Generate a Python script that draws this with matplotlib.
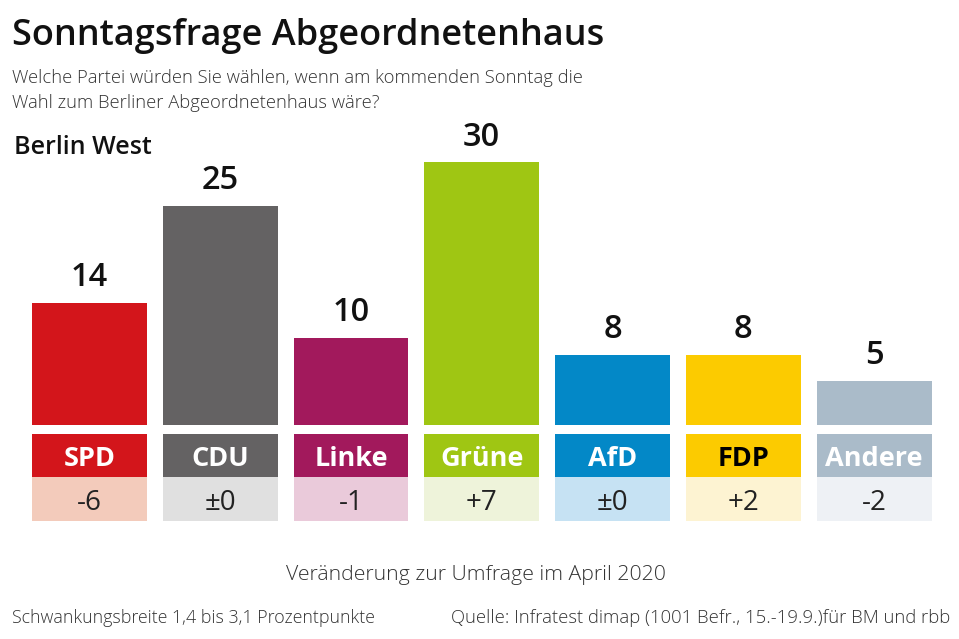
import matplotlib
matplotlib.use("Agg")
import matplotlib.pyplot as plt

parties = ["SPD", "CDU", "Linke", "Grüne", "AfD", "FDP", "Andere"]
values = [14, 25, 10, 30, 8, 8, 5]
changes = ["-6", "±0", "-1", "+7", "±0", "+2", "-2"]
colors = ["#d3151b", "#646263", "#a2195c", "#9fc613", "#0388c7", "#fccb00", "#aabbc9"]
light_colors = ["#f3cbbb", "#e0e0e0", "#eacada", "#eef3da", "#c6e2f3", "#fdf3d2", "#eef1f5"]
label_colors = ["white", "white", "white", "white", "white", "black", "white"]

FONT = "Open Sans"
plt.rcParams["font.family"] = [FONT, "DejaVu Sans"]

W, H = 959, 639
fig = plt.figure(figsize=(W / 100, H / 100), dpi=100)
fig.patch.set_facecolor("white")

# axes geometry in pixels
px_per_unit = 8.75
base_y = 425
x_left = 89.5 - 130.8 * 0.5
x_right = 874 + 130.8 * 0.5
ymin, ymax = -12, 32
ax_top = base_y - ymax * px_per_unit
ax_bot = base_y - ymin * px_per_unit
ax = fig.add_axes([x_left / W, 1 - ax_bot / H, (x_right - x_left) / W, (ax_bot - ax_top) / H])
ax.set_xlim(-0.5, 6.5)
ax.set_ylim(ymin, ymax)
ax.axis("off")

xs = list(range(len(parties)))
bw = 115 / 130.8
ax.bar(xs, values, width=bw, color=colors)

dark_top = -(434 - base_y) / px_per_unit
dark_bot = -(477 - base_y) / px_per_unit
light_bot = -(521 - base_y) / px_per_unit
ax.bar(xs, [dark_top - dark_bot] * 7, bottom=dark_bot, width=bw, color=colors)
ax.bar(xs, [dark_bot - light_bot] * 7, bottom=light_bot, width=bw, color=light_colors)

for x, v, p, c, lc in zip(xs, values, parties, changes, label_colors):
    ax.text(x, v + 1.0, str(v), ha="center", va="bottom", fontsize=23.5,
            fontweight="semibold", color="#111111")
    ax.text(x, (dark_top + dark_bot) / 2, p, ha="center", va="center_baseline",
            fontsize=19.5, fontweight="bold", color=lc)
    ax.text(x, (dark_bot + light_bot) / 2, c, ha="center", va="center_baseline",
            fontsize=20, fontweight="normal", color="#222222")

def fy(py):
    return 1 - py / H

fig.text(12 / W, fy(36), "Sonntagsfrage Abgeordnetenhaus", fontsize=26,
         fontweight="semibold", color="#111111", va="center", ha="left")
fig.text(12 / W, fy(78), "Welche Partei würden Sie wählen, wenn am kommenden Sonntag die",
         fontsize=13.2, color="#333333", va="center", ha="left", fontweight="light")
fig.text(12 / W, fy(103), "Wahl zum Berliner Abgeordnetenhaus wäre?",
         fontsize=13.2, color="#333333", va="center", ha="left", fontweight="light")
fig.text(14 / W, fy(147), "Berlin West", fontsize=18, fontweight="semibold",
         color="#111111", va="center", ha="left")
fig.text(476 / W, fy(575), "Veränderung zur Umfrage im April 2020", fontsize=15.3,
         color="#333333", va="center", ha="center", fontweight="light")
fig.text(12 / W, fy(618), "Schwankungsbreite 1,4 bis 3,1 Prozentpunkte", fontsize=12.8,
         color="#333333", va="center", ha="left", fontweight="light")
fig.text(950 / W, fy(618), "Quelle: Infratest dimap (1001 Befr., 15.-19.9.)für BM und rbb",
         fontsize=13.3, color="#333333", va="center", ha="right", fontweight="light")

fig.savefig("out.png", dpi=100, facecolor="white")
